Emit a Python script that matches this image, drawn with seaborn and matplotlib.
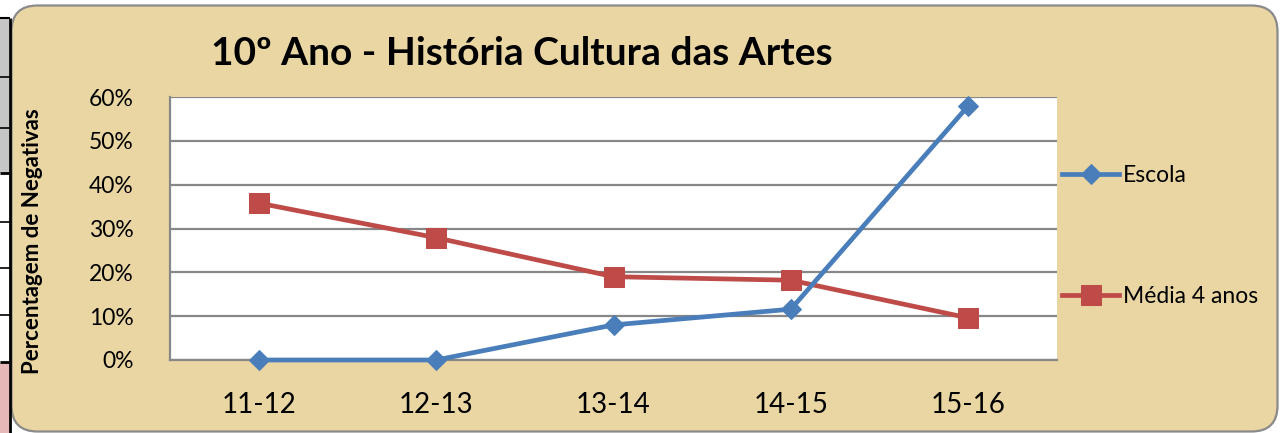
import matplotlib
matplotlib.use("Agg")
import matplotlib.pyplot as plt
import seaborn as sns
import pandas as pd
from matplotlib.patches import FancyBboxPatch, Rectangle
from matplotlib.ticker import FuncFormatter

# ---- data ----
anos = ["11-12", "12-13", "13-14", "14-15", "15-16"]
escola = [0.0, 0.0, 0.08, 0.116, 0.58]
media_4_anos = [0.358, 0.279, 0.19, 0.182, 0.096]
y_ticks = [0.0, 0.1, 0.2, 0.3, 0.4, 0.5, 0.6]

titulo = "10º Ano - História Cultura das Artes"
rotulo_y = "Percentagem de Negativas"

df = pd.DataFrame({"Ano": anos, "Escola": escola, "Média 4 anos": media_4_anos})

plt.rcParams["font.family"] = ["Lato", "DejaVu Sans"]

W, H = 1283, 433
fig = plt.figure(figsize=(W / 100, H / 100), dpi=100)
fig.patch.set_facecolor("white")

# background layer in pixel coordinates
bg = fig.add_axes([0, 0, 1, 1], zorder=0)
bg.set_xlim(0, W)
bg.set_ylim(H, 0)
bg.axis("off")

# neighbouring table cells at the left edge
bg.add_patch(Rectangle((0, 18), 9, 155, facecolor="#C6C6C6", edgecolor="none"))
bg.add_patch(Rectangle((0, 362), 9, 71, facecolor="#E6B9B8", edgecolor="none"))
for yy, lw in [(18, 1.5), (77, 1.2), (128, 1.2), (173, 2.0), (222, 1.2),
               (268, 1.2), (315, 1.2), (362, 2.0)]:
    bg.plot([0, 10], [yy, yy], color="black", lw=lw, solid_capstyle="butt")
bg.plot([9.5, 9.5], [18, 433], color="black", lw=2.0, solid_capstyle="butt")

# rounded parchment panel
panel = FancyBboxPatch((11.5, 5.5), 1266, 426,
                       boxstyle="round,pad=0,rounding_size=26",
                       facecolor="#E9D6A2", edgecolor="#8A8A8A", lw=1.6)
bg.add_patch(panel)

# ---- plot area ----
ax = fig.add_axes([170 / W, 1 - 360 / H, 887 / W, 263 / H], zorder=1)
ax.set_facecolor("white")

sns.lineplot(data=df, x="Ano", y="Escola", ax=ax, sort=False,
             color="#4A7EBB", lw=3.4, marker="D", markersize=10,
             markeredgecolor="#4A7EBB", label="Escola", clip_on=False, zorder=4)
sns.lineplot(data=df, x="Ano", y="Média 4 anos", ax=ax, sort=False,
             color="#BE4B48", lw=3.4, marker="s", markersize=14,
             markeredgecolor="#BE4B48", label="Média 4 anos", clip_on=False, zorder=3)

ax.set_xlim(-0.5, len(anos) - 0.5)
ax.set_ylim(0, 0.6)
ax.set_yticks(y_ticks)
ax.yaxis.set_major_formatter(FuncFormatter(lambda v, _: f"{v * 100:.0f}%"))
ax.yaxis.grid(True, color="#878787", lw=1.6)
ax.xaxis.grid(False)
ax.set_axisbelow(True)
for s in ["top", "right"]:
    ax.spines[s].set_visible(False)
for s in ["left", "bottom"]:
    ax.spines[s].set_color("#878787")
    ax.spines[s].set_linewidth(1.6)
ax.tick_params(axis="y", length=0, labelsize=16.5, pad=26, colors="black")
ax.tick_params(axis="x", length=0, labelsize=20, pad=23, colors="black")
ax.set_xlabel("")
ax.set_ylabel("")

leg = ax.legend(loc="center left", bbox_to_anchor=(1062 / W, 1 - 236 / H),
                bbox_transform=fig.transFigure, frameon=False, fontsize=16.5,
                handlelength=2.5, handletextpad=0.15, labelspacing=4.4,
                borderpad=0, borderaxespad=0)

fig.text(211 / W, 1 - 65 / H, titulo, fontsize=28, fontweight="bold",
         ha="left", va="baseline")
fig.text(33 / W, 1 - 241 / H, rotulo_y, fontsize=16, fontweight="bold",
         rotation=90, ha="center", va="center")

fig.savefig("out.png", dpi=100, facecolor=fig.get_facecolor())
